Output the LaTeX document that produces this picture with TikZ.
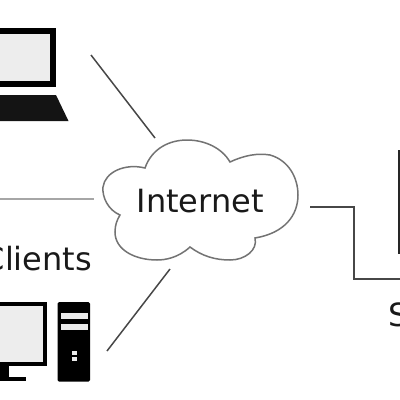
\documentclass[tikz,border=0pt]{standalone}
\usepackage{fontspec}
\setmainfont{DejaVu Sans}
\tikzset{
  link/.style={draw=black!72,line width=1.5pt},
  cloudline/.style={draw=black!55,line width=1.5pt,fill=white},
  label/.style={inner sep=0pt,anchor=base west,font=\fontsize{32}{32}\selectfont,text=black!90},
  screen/.style={fill=black!7,draw=black},
}
\begin{document}
\begin{tikzpicture}[x=1pt,y=-1pt]
\useasboundingbox (0,0) rectangle (400,400);
\clip (0,0) rectangle (400,400);
% laptop
\draw[screen,line width=6pt] (-10,31) rectangle (53,84);
\fill[black!92] (-10,95) -- (56,95) -- (68.5,121) -- (-10,121) -- cycle;
% cloud
\draw[cloudline] (145,168)
  .. controls (152,148) and (170,140) .. (187,140)
  .. controls (205,140) and (222,148) .. (230,162)
  .. controls (245,155) and (258,153) .. (270,155)
  .. controls (288,160) and (298,177) .. (298,195)
  .. controls (298,215) and (285,233) .. (255,238)
  .. controls (258,250) and (245,260) .. (230,260)
  .. controls (215,260) and (202,256) .. (190,247)
  .. controls (178,258) and (165,260) .. (157,260)
  .. controls (135,260) and (115,250) .. (115,232)
  .. controls (115,225) and (117,220) .. (120,215)
  .. controls (108,210) and (102,197) .. (103,187)
  .. controls (105,172) and (125,163) .. (145,168) -- cycle;
\node[label] (internet) at (136.5,212.5) {Internet};
\node[label] (clients) at (-17.5,270) {Clients};
\node[label] (server) at (388,326) {S};
% connectors
\coordinate (a1) at (91,55);
\coordinate (a2) at (155,138);
\coordinate (b1) at (0,199);
\coordinate (b2) at (94,199);
\coordinate (c1) at (107,351);
\coordinate (c2) at (170,269);
\coordinate (d1) at (310,207);
\coordinate (d2) at (354,207);
\coordinate (d3) at (354,279);
\coordinate (d4) at (400,279);
\draw[link] (a1) -- (a2);
\draw[draw=black!35,line width=2.5pt] (b1) -- (b2);
\draw[link] (c1) -- (c2);
\draw[link] (d1) -- (d2) -- (d3) -- (d4);
% server edge
\coordinate (s1) at (399,150);
\coordinate (s2) at (399,254);
\draw[black!85,line width=2.5pt] (s1) -- (s2);
% monitor
\draw[screen,line width=3.5pt] (-10,304) rectangle (45,364);
\fill[black] (-10,366) rectangle (8.5,378);
\fill[black] (-10,377) rectangle (26,381);
% tower
\fill[black,rounded corners=1.5pt] (57.5,302) rectangle (90,381.5);
\fill[white!92!black] (60.5,313) rectangle (88,319);
\fill[white!92!black] (60.5,324) rectangle (88,330);
\fill[white!92!black] (72,351) rectangle (77,354.5);
\fill[white!92!black] (72,357) rectangle (77,360.5);
\end{tikzpicture}
\end{document}
